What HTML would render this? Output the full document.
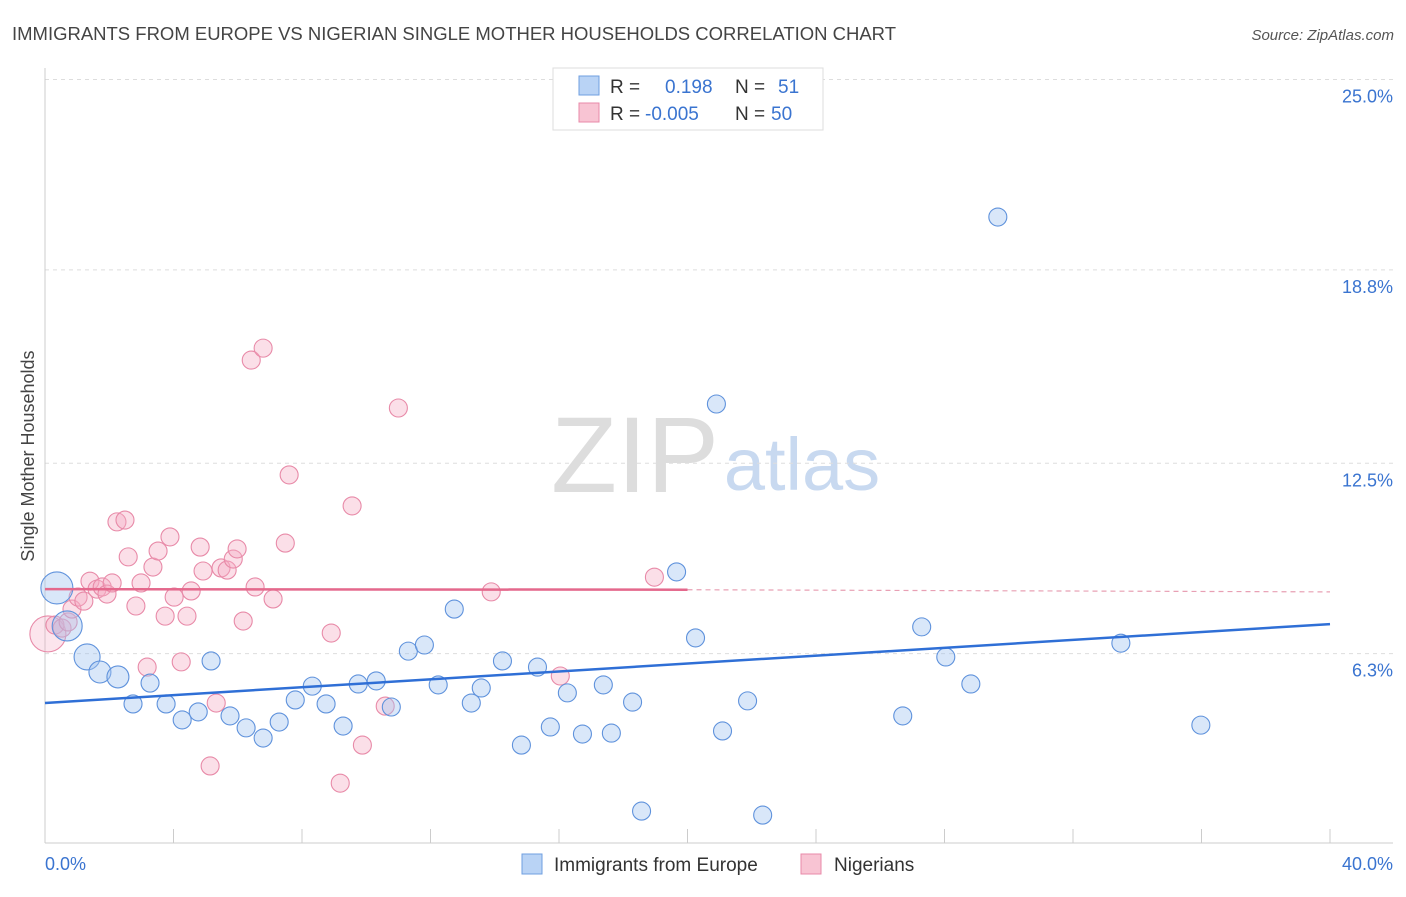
<!DOCTYPE html>
<html><head><meta charset="utf-8"><style>
body{margin:0;background:#fff;font-family:"Liberation Sans",sans-serif;}
svg text{font-family:"Liberation Sans",sans-serif;}
</style></head><body>
<svg id="chart" width="1406" height="892" xmlns="http://www.w3.org/2000/svg">
<text x="12" y="40" font-size="18.6" fill="#444" textLength="884" lengthAdjust="spacingAndGlyphs">IMMIGRANTS FROM EUROPE VS NIGERIAN SINGLE MOTHER HOUSEHOLDS CORRELATION CHART</text>
<text x="1394" y="40" font-size="15" fill="#555" text-anchor="end" font-style="italic">Source: ZipAtlas.com</text>
<text transform="translate(34,456) rotate(-90)" font-size="18" fill="#444" text-anchor="middle">Single Mother Households</text>
<g>
<text x="635" y="492" font-size="108" fill="#ddd" font-family="Liberation Serif" text-anchor="middle">ZIP</text>
<text x="802" y="490" font-size="74" fill="#c8d9f0" text-anchor="middle">atlas</text>
</g>
<g id="grid"></g><g id="axes"></g><g id="marks"></g>
<g>
<rect x="553" y="68" width="270" height="62" fill="#fff" stroke="#ddd"/>
<rect x="579" y="76" width="20" height="19" fill="#b9d3f5" stroke="#6f9fe0"/>
<text x="610" y="93" font-size="19" fill="#333">R =</text><text x="665" y="93" font-size="19" fill="#3a74d0">0.198</text>
<text x="735" y="93" font-size="19" fill="#333">N =</text><text x="778" y="93" font-size="19" fill="#3a74d0">51</text>
<rect x="579" y="103" width="20" height="19" fill="#f8c4d3" stroke="#e88aa8"/>
<text x="610" y="120" font-size="19" fill="#333">R =</text><text x="645" y="120" font-size="19" fill="#3a74d0">-0.005</text>
<text x="735" y="120" font-size="19" fill="#333">N =</text><text x="771" y="120" font-size="19" fill="#3a74d0">50</text>
</g>
<g>
<rect x="522" y="854" width="20" height="20" fill="#b9d3f5" stroke="#6f9fe0"/>
<text x="554" y="871" font-size="19" fill="#333">Immigrants from Europe</text>
<rect x="801" y="854" width="20" height="20" fill="#f8c4d3" stroke="#e88aa8"/>
<text x="834" y="871" font-size="19" fill="#333">Nigerians</text>
</g>
</svg>
<script>
const yTicks=[25.0,18.8,12.5,6.3];
const yTickLabels=["25.0%","18.8%","12.5%","6.3%"];
const xTicks=[0,4,8,12,16,20,24,28,32,36,40];
const blueX=[0.37,0.69,1.31,1.71,2.27,2.74,3.27,3.77,4.27,4.77,5.17,5.76,6.26,6.79,7.29,7.79,8.32,8.75,9.28,9.75,10.31,10.78,11.31,11.81,12.24,12.74,13.27,13.58,14.24,14.83,15.33,15.73,16.26,16.73,17.38,17.63,18.29,18.57,19.66,20.25,20.90,21.09,21.87,22.34,26.70,27.29,28.04,28.82,29.66,33.49,35.98];
const blueY=[8.44,7.20,6.19,5.70,5.54,4.66,5.34,4.66,4.14,4.40,6.06,4.27,3.88,3.55,4.07,4.79,5.24,4.66,3.94,5.31,5.41,4.56,6.38,6.58,5.28,7.75,4.69,5.18,6.06,3.32,5.86,3.91,5.02,3.68,5.28,3.71,4.72,1.17,8.96,6.81,14.43,3.78,4.76,1.04,4.27,7.17,6.19,5.31,20.52,6.64,3.97];
const blueR=[16,15,13,11,11,9,9,9,9,9,9,9,9,9,9,9,9,9,9,9,9,9,9,9,9,9,9,9,9,9,9,9,9,9,9,9,9,9,9,9,9,9,9,9,9,9,9,9,9,9,9];
const pinkX=[0.09,0.31,0.53,0.72,0.84,1.03,1.21,1.40,1.62,1.78,1.93,2.09,2.24,2.49,2.59,2.83,2.99,3.18,3.36,3.52,3.74,3.89,4.02,4.24,4.42,4.55,4.83,4.92,5.14,5.33,5.48,5.67,5.86,5.98,6.17,6.42,6.54,6.79,7.10,7.48,7.60,8.91,9.19,9.56,9.88,10.59,11.00,13.89,16.04,18.97];
const pinkY=[6.94,7.23,7.13,7.33,7.75,8.14,8.01,8.66,8.40,8.47,8.24,8.60,10.59,10.65,9.45,7.85,8.60,5.86,9.12,9.64,7.52,10.10,8.14,6.03,7.52,8.34,9.77,8.99,2.64,4.69,9.09,9.02,9.38,9.71,7.36,15.86,8.47,16.25,8.08,9.90,12.12,6.97,2.08,11.11,3.32,4.59,14.30,8.31,5.57,8.79];
const blueTrend=[[0,4.69],[40,7.26]];
const pinkTrendSolid=[[0,8.40],[20,8.38]];
const pinkTrendDash=[[20,8.38],[40,8.31]];
const NS="http://www.w3.org/2000/svg";
const sx=v=>45+v*32.125;
const sy=v=>847-v*30.7;
function mk(t,a,p){const e=document.createElementNS(NS,t);for(const k in a)e.setAttribute(k,a[k]);p.appendChild(e);return e;}
const grid=document.getElementById('grid'),axes=document.getElementById('axes'),marks=document.getElementById('marks');
yTicks.forEach((t,i)=>{
 const l=mk('line',{x1:45,x2:1393,y1:sy(t),y2:sy(t),stroke:'#ddd','stroke-dasharray':'4,4'},grid);
 
 
 const tx=mk('text',{x:1393,y:sy(t)+23,'font-size':18,fill:'#3a74d0','text-anchor':'end'},axes);
 tx.textContent=yTickLabels[i];
 
 
});
const ya=mk('line',{x1:45,x2:45,y1:68,y2:843,stroke:'#ccc'},axes);


const xa=mk('line',{x1:45,x2:1393,y1:843,y2:843,stroke:'#ccc'},axes);


xTicks.forEach(t=>{
 const l=mk('line',{x1:sx(t),x2:sx(t),y1:829,y2:843,stroke:'#ccc'},axes);
 
 
});
const x0=mk('text',{x:45,y:870,'font-size':18,fill:'#3a74d0'},axes);x0.textContent='0.0%';


const x1=mk('text',{x:1393,y:870,'font-size':18,fill:'#3a74d0','text-anchor':'end'},axes);x1.textContent='40.0%';


pinkX.forEach((v,i)=>{
 const c=mk('circle',{cx:sx(v),cy:sy(pinkY[i]),r:i===0?18:9,fill:i===0?'rgba(245,170,195,0.3)':'rgba(245,170,195,0.38)',stroke:'#e88aa8','stroke-width':1.1},marks);
 
 
});
blueX.forEach((v,i)=>{
 const c=mk('circle',{cx:sx(v),cy:sy(blueY[i]),r:blueR[i],fill:'rgba(160,195,240,0.4)',stroke:'#5f92dc','stroke-width':1.1},marks);
 
 
});
const bt=mk('line',{x1:sx(blueTrend[0][0]),y1:sy(blueTrend[0][1]),x2:sx(blueTrend[1][0]),y2:sy(blueTrend[1][1]),stroke:'#2f6fd6','stroke-width':2.5},marks);


const pt=mk('line',{x1:sx(pinkTrendSolid[0][0]),y1:sy(pinkTrendSolid[0][1]),x2:sx(pinkTrendSolid[1][0]),y2:sy(pinkTrendSolid[1][1]),stroke:'#e4688c','stroke-width':2.5},marks);


const pd=mk('line',{x1:sx(pinkTrendDash[0][0]),y1:sy(pinkTrendDash[0][1]),x2:sx(pinkTrendDash[1][0]),y2:sy(pinkTrendDash[1][1]),stroke:'#e8a0b4','stroke-width':1.2,'stroke-dasharray':'5,4'},marks);


</script>
</body></html>
